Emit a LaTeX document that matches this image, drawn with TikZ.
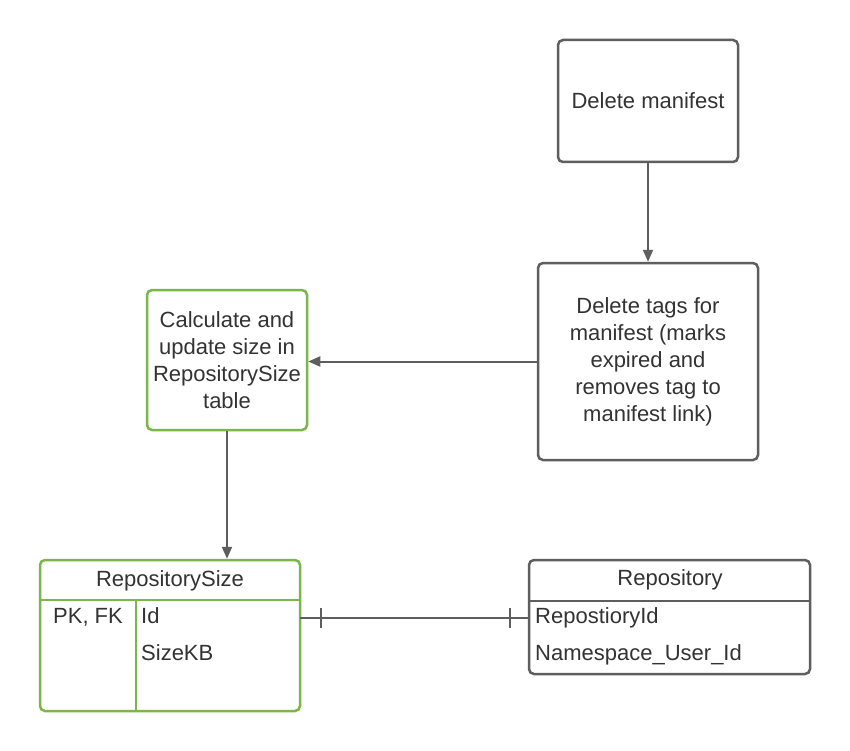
\documentclass[tikz,border=0pt]{standalone}
\usepackage{fontspec}
\setmainfont{Liberation Sans}
\usetikzlibrary{arrows.meta}
\definecolor{lc}{HTML}{5E5E5E}
\definecolor{gr}{HTML}{7AB648}
\definecolor{tx}{HTML}{333333}
\begin{document}
\begin{tikzpicture}[x=1pt,y=-1pt,
  box/.style={draw=lc, line width=2.5pt, rounded corners=5pt, align=center, text=tx,
    font=\fontsize{22}{27}\selectfont, inner sep=0pt},
  gbox/.style={box, draw=gr},
  txt/.style={text=tx, font=\fontsize{22}{27}\selectfont, inner sep=0pt},
  conn/.style={draw=lc, line width=2pt, -{Triangle[length=12pt,width=10pt]}},
  plain/.style={draw=lc, line width=2pt},
  gline/.style={draw=gr, line width=2.5pt},
  lline/.style={draw=lc, line width=2.5pt}]
\useasboundingbox (0,0) rectangle (850,751);
\fill[white] (0,0) rectangle (850,751);
% flow boxes
\node[box, minimum width=180pt, minimum height=122pt] (dm) at (648,101) {Delete manifest};
\node[box, minimum width=220pt, minimum height=197pt] (dt) at (648,361.5) {Delete tags for\\manifest (marks\\expired and\\removes tag to\\manifest link)};
\node[gbox, minimum width=160pt, minimum height=140pt] (calc) at (227,360) {Calculate and\\update size in\\RepositorySize\\table};
% tables
\node[gbox, minimum width=260pt, minimum height=151pt] (rs) at (170,635.5) {};
\node[box, minimum width=281pt, minimum height=114pt] (rp) at (669.5,617) {};
\coordinate (rsh1) at (40,600); \coordinate (rsh2) at (300,600);
\coordinate (rsv1) at (136,600); \coordinate (rsv2) at (136,711);
\draw[gline] (rsh1) -- (rsh2);
\draw[gline] (rsv1) -- (rsv2);
\coordinate (rph1) at (529,601); \coordinate (rph2) at (810,601);
\draw[lline] (rph1) -- (rph2);
\node[txt, anchor=base] (rsname) at (170,586) {RepositorySize};
\node[txt, anchor=base] (pk) at (88,623.5) {PK, FK};
\node[txt, anchor=base west] (rsid) at (141,623.5) {Id};
\node[txt, anchor=base west] (rssz) at (141,660.5) {SizeKB};
\node[txt, anchor=base] (rpname) at (670,585) {Repository};
\node[txt, anchor=base west] (rpid) at (535,623.5) {RepostioryId};
\node[txt, anchor=base west] (rpns) at (535,660.5) {Namespace\_User\_Id};
% connectors
\draw[conn] (dm.south) -- (dt.north);
\draw[conn] (dt.west) -- (dt.west -| calc.east);
\draw[conn] (calc.south) -- (calc.south |- rs.north);
\coordinate (e1) at (300,618); \coordinate (e2) at (529,618);
\draw[plain] (e1) -- (e2);
\coordinate (t1a) at (321,608); \coordinate (t1b) at (321,628);
\coordinate (t2a) at (510,608); \coordinate (t2b) at (510,628);
\draw[plain] (t1a) -- (t1b);
\draw[plain] (t2a) -- (t2b);
\end{tikzpicture}
\end{document}
